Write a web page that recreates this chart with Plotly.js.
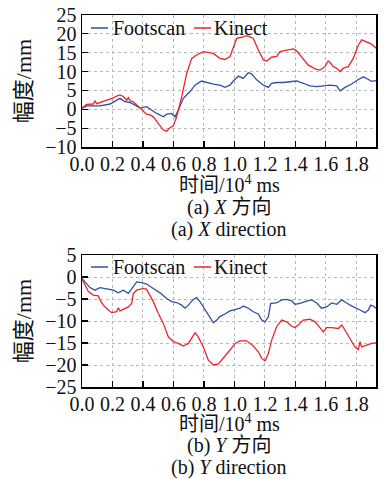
<!DOCTYPE html>
<html>
<head>
<meta charset="utf-8">
<script src="https://cdn.plot.ly/plotly-3.0.1.min.js"></script>
<style>html,body{margin:0;padding:0;background:#fff;}#chart{width:384px;height:479px;}</style>
</head>
<body>
<div id="chart"></div>
<script>
// ---- Data (time in 10^4 ms, amplitude in mm) ----
// (a) X direction
const xFootscanT = [0,0.031,0.074,0.118,0.184,0.227,0.249,0.282,0.315,0.348,0.381,0.424,0.457,0.49,0.534,0.556,0.588,0.61,0.632,0.665,0.709,0.741,0.785,0.818,0.862,0.905,0.938,0.971,0.993,1.026,1.058,1.091,1.113,1.146,1.19,1.223,1.244,1.277,1.321,1.365,1.408,1.452,1.496,1.54,1.583,1.627,1.671,1.693,1.726,1.769,1.813,1.846,1.879,1.9,1.929];
const xFootscanV = [0.3,0.9,0.9,0.9,1.4,2.5,2.9,2.0,1.8,1.1,0.3,0.7,-0.2,-1.1,-2.0,-1.3,-1.1,-2.0,-0.2,2.9,4.7,6.4,7.5,7.1,6.7,6.4,5.8,6.4,7.5,8.8,8.2,9.7,9.4,7.8,6.4,5.8,6.9,7.1,7.1,7.3,7.5,6.9,6.2,6.0,6.2,6.4,6.2,4.9,5.8,6.7,7.9,8.6,7.9,7.4,7.6];
const xKinectT = [0,0.031,0.074,0.085,0.096,0.118,0.14,0.162,0.184,0.206,0.227,0.249,0.271,0.282,0.293,0.304,0.315,0.337,0.359,0.381,0.402,0.424,0.446,0.468,0.49,0.512,0.534,0.556,0.577,0.599,0.621,0.654,0.687,0.72,0.752,0.796,0.829,0.862,0.905,0.938,0.971,0.993,1.015,1.048,1.08,1.091,1.124,1.157,1.19,1.212,1.244,1.277,1.299,1.343,1.387,1.408,1.441,1.485,1.529,1.561,1.594,1.615,1.627,1.649,1.671,1.693,1.715,1.747,1.78,1.813,1.835,1.868,1.9,1.929];
const xKinectV = [0.3,1.3,1.4,2.2,1.5,1.8,2.0,2.2,2.5,3.0,3.5,3.8,3.4,3.0,2.4,3.1,2.3,2.0,1.2,0.5,-0.5,-1.3,-1.5,-2.0,-3.2,-4.3,-5.5,-5.8,-4.9,-4.4,-2.0,3.3,9.5,13.5,14.4,15.3,15.1,14.8,13.5,13.2,14.0,16.2,18.8,19.1,19.5,19.4,18.8,15.7,13.1,12.8,13.8,14.0,15.3,15.7,16.0,15.5,14.0,11.7,10.7,10.4,11.3,12.8,12.4,11.3,10.9,10.0,10.9,11.3,13.5,17.0,18.4,17.9,17.3,16.2];
// (b) Y direction
const yFootscanT = [0,0.02,0.052,0.085,0.118,0.162,0.206,0.238,0.271,0.304,0.326,0.359,0.391,0.424,0.468,0.512,0.556,0.588,0.621,0.654,0.676,0.698,0.73,0.752,0.774,0.807,0.84,0.862,0.884,0.905,0.938,0.971,1.004,1.037,1.058,1.091,1.124,1.157,1.179,1.201,1.223,1.238,1.277,1.31,1.343,1.376,1.397,1.43,1.474,1.507,1.54,1.572,1.605,1.638,1.671,1.704,1.736,1.78,1.824,1.857,1.879,1.894,1.911,1.929];
const yFootscanV = [-0.3,-1.1,-2.4,-3.0,-2.4,-2.7,-3.0,-3.6,-3.0,-3.7,-2.6,-1.1,-1.3,-1.6,-2.6,-3.6,-4.9,-5.6,-5.8,-6.4,-7.1,-6.4,-5.1,-4.7,-5.6,-7.5,-9.2,-10.4,-9.8,-9.0,-8.4,-7.7,-7.4,-7.1,-6.6,-7.1,-7.9,-8.4,-9.8,-10.2,-9.0,-6.0,-5.9,-5.2,-5.1,-5.4,-6.2,-6.0,-5.5,-5.2,-5.9,-7.1,-6.8,-5.9,-6.2,-5.2,-5.9,-6.8,-7.5,-8.1,-7.5,-6.4,-6.6,-7.1];
const yKinectT = [0,0.02,0.042,0.074,0.107,0.118,0.14,0.173,0.195,0.227,0.238,0.249,0.282,0.304,0.326,0.337,0.359,0.381,0.402,0.424,0.446,0.468,0.501,0.534,0.566,0.599,0.632,0.665,0.698,0.72,0.741,0.763,0.796,0.829,0.862,0.894,0.927,0.971,1.004,1.037,1.08,1.124,1.157,1.179,1.201,1.223,1.244,1.277,1.31,1.343,1.376,1.397,1.419,1.452,1.496,1.529,1.561,1.583,1.605,1.638,1.682,1.704,1.726,1.758,1.791,1.813,1.824,1.835,1.868,1.9,1.929];
const yKinectV = [-0.5,-1.8,-3.3,-4.1,-4.3,-5.2,-6.4,-7.5,-8.1,-7.9,-7.0,-7.7,-7.1,-6.8,-6.0,-3.7,-3.0,-2.8,-2.6,-2.8,-4.1,-5.6,-8.3,-10.6,-13.6,-14.7,-15.1,-15.7,-15.1,-14.0,-12.7,-13.6,-15.9,-18.9,-20.0,-19.8,-18.5,-16.6,-15.1,-14.5,-14.5,-15.7,-17.0,-18.5,-19.1,-17.4,-14.4,-11.3,-9.8,-10.2,-11.2,-11.5,-10.9,-9.8,-9.6,-10.2,-11.5,-12.5,-11.5,-11.5,-11.7,-10.9,-12.1,-14.0,-15.9,-16.5,-14.7,-15.9,-15.5,-15.1,-15.0];

const xTickVals = [0,0.2,0.4,0.6,0.8,1.0,1.2,1.4,1.6,1.8];
const xTickText = ['0.0','0.2','0.4','0.6','0.8','1.0','1.2','1.4','1.6','1.8'];
const seriesNames = ['Footscan','Kinect'];
const xTitle = '时间/10<sup>4</sup> ms';
const yTitle = '幅度/mm';
const captions = ['(a) <i>X</i> 方向','(a) <i>X</i> direction','(b) <i>Y</i> 方向','(b) <i>Y</i> direction'];
const blue = '#2f4fa6', red = '#e8262b';

const FONT = '"Liberation Serif", "Times New Roman", "Noto Sans CJK SC", serif';

const traces = [
  {x: xFootscanT, y: xFootscanV, name: seriesNames[0], xaxis:'x', yaxis:'y', mode:'lines', line:{color:blue,width:1.3}},
  {x: xKinectT, y: xKinectV, name: seriesNames[1], xaxis:'x', yaxis:'y', mode:'lines', line:{color:red,width:1.3}},
  {x: yFootscanT, y: yFootscanV, name: seriesNames[0], xaxis:'x2', yaxis:'y2', mode:'lines', line:{color:blue,width:1.3}},
  {x: yKinectT, y: yKinectV, name: seriesNames[1], xaxis:'x2', yaxis:'y2', mode:'lines', line:{color:red,width:1.3}}
];

const xBase = {
  range:[0,1.929], tickvals:xTickVals, ticktext:xTickText,
  ticks:'inside', ticklen:6, tickwidth:1.2, tickcolor:'#000',
  showline:true, linecolor:'#000', linewidth:1.5, mirror:true,
  showgrid:true, gridcolor:'#b8b8b8', griddash:'dot', gridwidth:1,
  zeroline:false, tickfont:{family:FONT,size:20,color:'#111'},
  ticklabelstandoff:-2,
  automargin:false
};
const yBase = {
  ticks:'inside', ticklen:6, tickwidth:1.2, tickcolor:'#000',
  showline:true, linecolor:'#000', linewidth:1.5, mirror:true,
  showgrid:true, gridcolor:'#b8b8b8', griddash:'dot', gridwidth:1,
  zeroline:false, tickfont:{family:FONT,size:20,color:'#111'},
  title:{text:yTitle, font:{family:FONT,size:22,color:'#111'}, standoff:7},
  automargin:false, dtick:5
};

// pixel -> paper helpers for layout placement (plot area: x 82..376, y 15..387)
const px = v => (v-82)/294;
const py = v => (387-v)/372;

const shapes = [
  // white band behind legends (grid not shown there)
  {type:'rect', xref:'x domain', yref:'y', x0:0, x1:1, y0:20.3, y1:25, fillcolor:'#fff', line:{width:0}, layer:'below'},
  {type:'rect', xref:'x2 domain', yref:'y2', x0:0, x1:1, y0:0.3, y1:5, fillcolor:'#fff', line:{width:0}, layer:'below'},
  // legend samples
  {type:'line', xref:'paper', yref:'paper', x0:px(91), x1:px(108), y0:py(28), y1:py(28), line:{color:blue,width:1.5}},
  {type:'line', xref:'paper', yref:'paper', x0:px(194), x1:px(211), y0:py(28), y1:py(28), line:{color:red,width:1.5}},
  {type:'line', xref:'paper', yref:'paper', x0:px(91), x1:px(108), y0:py(267), y1:py(267), line:{color:blue,width:1.5}},
  {type:'line', xref:'paper', yref:'paper', x0:px(194), x1:px(211), y0:py(267), y1:py(267), line:{color:red,width:1.5}}
];

const ann = (text, x, y, xanchor, size) => ({text, x, y, xref:'paper', yref:'paper', xanchor, yanchor:'middle', showarrow:false, font:{family:FONT,size:size,color:'#111'}});

const annotations = [
  ann(seriesNames[0], px(111), py(28), 'left', 20),
  ann(seriesNames[1], px(212), py(28), 'left', 20),
  ann(seriesNames[0], px(111), py(267), 'left', 20),
  ann(seriesNames[1], px(212), py(267), 'left', 20),
  ann(xTitle, 0.5, py(184), 'center', 20),
  ann(captions[0], 0.5, py(207), 'center', 20),
  ann(captions[1], 0.5, py(229.5), 'center', 20),
  ann(xTitle, 0.5, py(422.5), 'center', 20),
  ann(captions[2], 0.5, py(445.5), 'center', 20),
  ann(captions[3], 0.5, py(467), 'center', 20)
];

const layout = {
  width:384, height:479,
  margin:{l:82, r:8, t:15, b:92},
  paper_bgcolor:'#fff', plot_bgcolor:'#fff',
  showlegend:false,
  font:{family:FONT, color:'#111'},
  xaxis: Object.assign({}, xBase, {domain:[0,1], anchor:'y'}),
  yaxis: Object.assign({}, yBase, {domain:[py(147),1], range:[-10,25], anchor:'x'}),
  xaxis2: Object.assign({}, xBase, {domain:[0,1], anchor:'y2'}),
  yaxis2: Object.assign({}, yBase, {domain:[0,py(255)], range:[-25,5], anchor:'x2'}),
  shapes, annotations
};

Plotly.newPlot('chart', traces, layout, {staticPlot:true, displayModeBar:false});
</script>
</body>
</html>
